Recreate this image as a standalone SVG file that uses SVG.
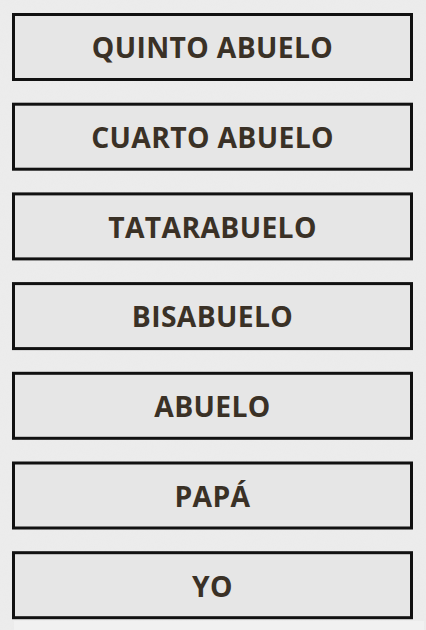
<svg xmlns="http://www.w3.org/2000/svg" width="426" height="630" viewBox="0 0 426 630">
<defs>
<filter id="paper" x="0" y="0" width="100%" height="100%">
<feTurbulence type="fractalNoise" baseFrequency="0.9" numOctaves="2" seed="4" result="n"/>
<feColorMatrix in="n" type="matrix" values="0 0 0 0 0.82  0 0 0 0 0.82  0 0 0 0 0.82  0 0 0 -1.6 1.0" result="c"/>
<feComposite in="c" in2="SourceGraphic" operator="in"/>
</filter>
<style>
.box{fill:#e6e6e6;stroke:#111;stroke-width:3}
.lbl{font-family:"Open Sans","Liberation Sans",sans-serif;font-weight:700;font-size:28.3px;letter-spacing:0.35px;fill:#3a3126;text-anchor:middle}
</style>
</defs>
<rect width="426" height="630" fill="#ececec"/>
<rect width="426" height="630" fill="#ececec" filter="url(#paper)" opacity="0.6"/>
<rect x="14" y="621" width="410" height="9" fill="#f1f1f1"/>
<g id="n1"><rect class="box" x="13.5" y="14.5" width="398" height="65"/><text class="lbl" x="212.5" y="58.3">QUINTO ABUELO</text></g>
<g id="n2"><rect class="box" x="13.5" y="104.2" width="398" height="65"/><text class="lbl" x="212.5" y="148">CUARTO ABUELO</text></g>
<g id="n3"><rect class="box" x="13.5" y="193.9" width="398" height="65"/><text class="lbl" x="212.5" y="237.7">TATARABUELO</text></g>
<g id="n4"><rect class="box" x="13.5" y="283.6" width="398" height="65"/><text class="lbl" x="212.5" y="327.4">BISABUELO</text></g>
<g id="n5"><rect class="box" x="13.5" y="373.3" width="398" height="65"/><text class="lbl" x="212.5" y="417.1">ABUELO</text></g>
<g id="n6"><rect class="box" x="13.5" y="463" width="398" height="65"/><text class="lbl" x="212.5" y="506.8">PAPÁ</text></g>
<g id="n7"><rect class="box" x="13.5" y="552.7" width="398" height="65"/><text class="lbl" x="212.5" y="596.5">YO</text></g>
<g id="connectors"/>
</svg>
